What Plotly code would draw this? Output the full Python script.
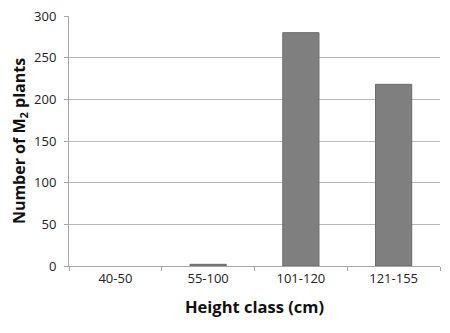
import plotly.graph_objects as go

categories = ["40-50", "55-100", "101-120", "121-155"]
counts = [0, 2, 280, 218]
y_ticks = [0, 50, 100, 150, 200, 250, 300]

fig = go.Figure(go.Bar(
    x=categories, y=counts, width=0.39,
    marker=dict(color="#7f7f7f",
                line=dict(color="#6a6a6a", width=[0 if v == 0 else 1 for v in counts])),
))
# page body has an 8px default margin, so figure is 442x325 placed at (8,8)
fig.update_layout(
    template="none",
    width=442, height=325,
    margin=dict(l=61, r=10, t=8, b=67, pad=0, autoexpand=False),
    paper_bgcolor="white", plot_bgcolor="white",
    font=dict(family="Open Sans, Liberation Sans, sans-serif", color="#222"),
    showlegend=False,
)
fig.update_xaxes(
    automargin=False,
    showline=True, linecolor="#a6a6a6", linewidth=1,
    ticks="outside", tickson="boundaries", ticklen=4, tickcolor="#a6a6a6",
    showgrid=False, ticklabeloverflow="allow",
    tickfont=dict(size=13, color="#222"),
    title=dict(text="<b>Height class (cm)</b>", font=dict(size=16.5, color="#111"), standoff=15),
)
fig.update_yaxes(
    automargin=False,
    range=[0, 300], tickvals=y_ticks,
    showline=True, linecolor="#a6a6a6", linewidth=1,
    ticks="outside", ticklen=4, tickcolor="#a6a6a6",
    ticklabelstandoff=5, ticklabeloverflow="allow",
    showgrid=True, gridcolor="#b8b8b8", gridwidth=1,
    tickfont=dict(size=13, color="#222"),
    title=dict(text="<b>Number of M<sub>2</sub> plants</b>", font=dict(size=16, color="#111"), standoff=8),
    zeroline=False,
)
fig.write_html("out.html")
